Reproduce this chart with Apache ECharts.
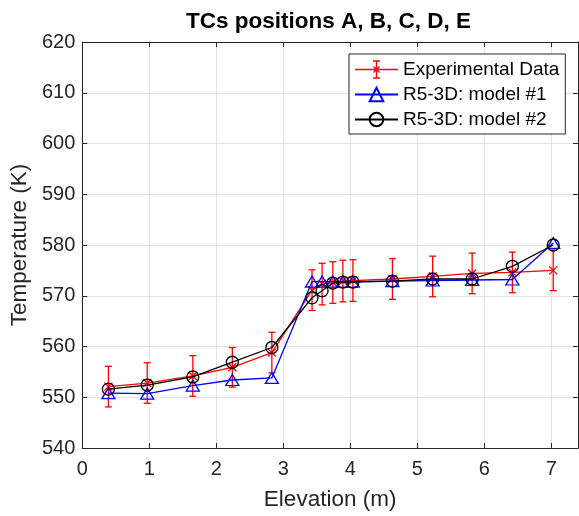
<!DOCTYPE html>
<html><head><meta charset="utf-8">
<script src="https://cdn.jsdelivr.net/npm/echarts@6/dist/echarts.min.js"></script>
<style>html,body{margin:0;padding:0;background:#fff}#c{width:579px;height:516px}</style>
</head><body><div id="c"></div>
<script>
const elevation = [0.39, 0.97, 1.65, 2.24, 2.83, 3.43, 3.58, 3.74, 3.89, 4.04, 4.63, 5.23, 5.82, 6.42, 7.03];
const tempExp = [552.1, 552.8, 554.2, 555.9, 558.8, 571.1, 572.3, 572.6, 572.9, 573.0, 573.3, 573.8, 574.4, 574.6, 575.0];
const errExp = [4, 4, 4, 3.9, 4, 4, 4.1, 4.1, 4.1, 4.1, 4, 4, 4, 4, 4];
const tempModel1 = [550.8, 550.7, 552.3, 553.4, 553.8, 572.8, 572.8, 572.8, 572.8, 572.8, 572.9, 573.0, 573.1, 573.2, 580.4];
const tempModel2 = [551.6, 552.4, 554.0, 556.9, 559.8, 569.6, 571.0, 572.5, 572.7, 572.7, 572.9, 573.3, 573.3, 575.8, 580.0];
const seriesNames = ['Experimental Data', 'R5-3D: model #1', 'R5-3D: model #2'];
const titleText = 'TCs positions A, B, C, D, E';
const xName = 'Elevation (m)';
const yName = 'Temperature (K)';

const FONT = '"Liberation Sans", Arial, sans-serif';
const AX = '#262626';
const GRID = '#e3e3e3';
const xMarker = 'path://M0,0L10,10M10,0L0,10';

const pairs = a => elevation.map((x, i) => [x, a[i]]);
const errData = elevation.map((x, i) => [x, tempExp[i], errExp[i]]);

const chart = echarts.init(document.getElementById('c'), null, {renderer: 'canvas'});
const axisCommon = {
  axisLine: {show: true, onZero: false, lineStyle: {color: AX, width: 1}},
  axisTick: {show: true, inside: true, length: 5, lineStyle: {color: AX, width: 1}},
};
chart.setOption({
  animation: false,
  backgroundColor: '#fff',
  title: {text: titleText, left: 181, top: 5,
    textStyle: {fontFamily: FONT, fontSize: 22.5, fontWeight: 'bold', color: '#000'}},
  grid: {left: 80, right: 1, top: 42, bottom: 66, containLabel: false},
  legend: {
    orient: 'vertical', left: 349, top: 54,
    backgroundColor: '#fff', borderColor: AX, borderWidth: 1,
    padding: [6, 6, 5, 5], itemGap: 6, itemWidth: 43, itemHeight: 17,
    textStyle: {fontFamily: FONT, fontSize: 19, color: '#000'},
    data: [
      {name: seriesNames[0], icon: 'path://M0,8.5L43,8.5M21.5,0L21.5,17M18,0L25,0M18,17L25,17M18.5,5.5L24.5,11.5M24.5,5.5L18.5,11.5',
        itemStyle: {color: 'transparent', borderColor: '#ff0000', borderWidth: 1.3}},
      {name: seriesNames[1]},
      {name: seriesNames[2]}
    ]
  },
  xAxis: [
    Object.assign({type: 'value', min: 0, max: 7.4, interval: 1, position: 'bottom',
      name: xName, nameLocation: 'middle', nameGap: 40,
      nameTextStyle: {fontFamily: FONT, fontSize: 22.5, color: AX},
      axisLabel: {fontFamily: FONT, fontSize: 20, color: AX, margin: 11, showMaxLabel: false,
        formatter: v => (Math.abs(v - Math.round(v)) < 1e-9 ? String(v) : '')},
      splitLine: {show: true, lineStyle: {color: GRID, width: 1}}}, axisCommon),
    Object.assign({type: 'value', min: 0, max: 7.4, interval: 1, position: 'top',
      axisLabel: {show: false}, splitLine: {show: false}}, axisCommon)
  ],
  yAxis: [
    Object.assign({type: 'value', min: 540, max: 620, interval: 10, position: 'left',
      name: yName, nameLocation: 'middle', nameGap: 50,
      nameTextStyle: {fontFamily: FONT, fontSize: 22.5, color: AX},
      axisLabel: {fontFamily: FONT, fontSize: 20, color: AX, margin: 7},
      splitLine: {show: true, lineStyle: {color: GRID, width: 1}}}, axisCommon),
    Object.assign({type: 'value', min: 540, max: 620, interval: 10, position: 'right',
      axisLabel: {show: false}, splitLine: {show: false}}, axisCommon)
  ],
  series: [
    {
      type: 'custom', name: 'errbar', xAxisIndex: 0, yAxisIndex: 0, z: 2,
      data: errData, encode: {x: 0, y: 1},
      renderItem: function (params, api) {
        const x = api.value(0), y = api.value(1), e = api.value(2);
        const top = api.coord([x, y + e]);
        const bot = api.coord([x, y - e]);
        const hw = 3.5;
        const st = {stroke: '#ff0000', lineWidth: 1.3};
        return {type: 'group', children: [
          {type: 'line', shape: {x1: top[0], y1: top[1], x2: bot[0], y2: bot[1]}, style: st},
          {type: 'line', shape: {x1: top[0] - hw, y1: top[1], x2: top[0] + hw, y2: top[1]}, style: st},
          {type: 'line', shape: {x1: bot[0] - hw, y1: bot[1], x2: bot[0] + hw, y2: bot[1]}, style: st}
        ]};
      }
    },
    {
      type: 'line', name: seriesNames[0], data: pairs(tempExp), z: 3,
      symbol: xMarker, symbolSize: 8,
      lineStyle: {color: '#ff0000', width: 1.3},
      itemStyle: {color: 'transparent', borderColor: '#ff0000', borderWidth: 1.3}
    },
    {
      type: 'line', name: seriesNames[1], data: pairs(tempModel1), z: 4,
      symbol: 'triangle', symbolSize: [13, 11],
      lineStyle: {color: '#0000ff', width: 1.3},
      itemStyle: {color: 'transparent', borderColor: '#0000ff', borderWidth: 1.3}
    },
    {
      type: 'line', name: seriesNames[2], data: pairs(tempModel2), z: 5,
      symbol: 'circle', symbolSize: 12,
      lineStyle: {color: '#000000', width: 1.3},
      itemStyle: {color: 'transparent', borderColor: '#000000', borderWidth: 1.3}
    }
  ]
});
</script></body></html>
